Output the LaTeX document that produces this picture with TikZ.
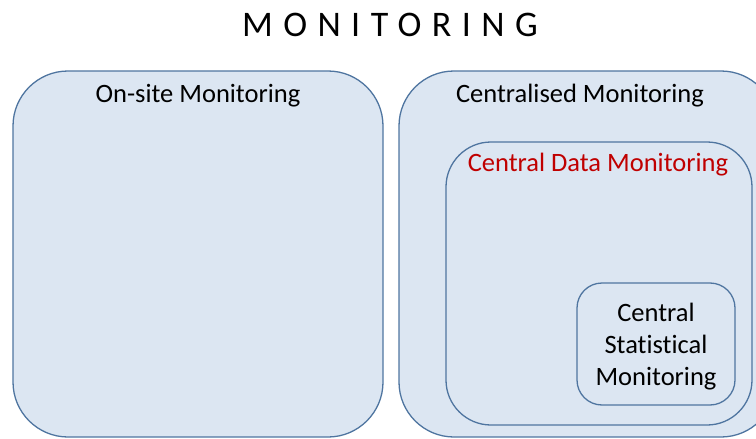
\documentclass[tikz,border=0pt]{standalone}
\usepackage{fontspec}
\setmainfont{Carlito}[Ligatures=NoCommon]
\newfontfamily\spacedfont[LetterSpace=29]{Carlito}
\usepackage{xcolor}
\definecolor{boxfill}{HTML}{DCE6F2}
\definecolor{boxline}{HTML}{4F75A0}
\definecolor{cdmred}{HTML}{C00000}
\tikzset{
  every picture/.style={line join=round, line cap=round},
  monbox/.style={draw=boxline, fill=boxfill, line width=1.3pt, inner sep=0pt},
  boxtitle/.style={font=\fontsize{26.5}{30}\selectfont, inner sep=0pt},
}

\begin{document}
\begin{tikzpicture}[x=1pt,y=-1pt]
\useasboundingbox (0,0) rectangle (756,439);
\clip (0,0) rectangle (756,439);
\node[font=\spacedfont\fontsize{36}{40}\selectfont, inner sep=0pt] (title) at (390,25) {MONITORING};
% the two main boxes
\node[monbox, rounded corners=55pt, minimum width=370pt, minimum height=366pt] (onsite) at (198,254) {};
\node[monbox, rounded corners=55pt, minimum width=377pt, minimum height=366pt] (central) at (587.5,254) {};
\node[boxtitle] (onsitelab) at (198,95.5) {On-site Monitoring};
\node[boxtitle] (centrallab) at (580,95.5) {Centralised Monitoring};
% nested boxes
\node[monbox, rounded corners=45pt, minimum width=306pt, minimum height=283pt] (cdm) at (599,283.5) {};
\node[boxtitle, text=cdmred] (cdmlab) at (598,164.5) {Central Data Monitoring};
\node[monbox, rounded corners=25pt, minimum width=158pt, minimum height=122pt,
  font=\fontsize{26.5}{32}\selectfont, align=center, text depth=0pt] (csm) at (656,344) {Central\\Statistical\\Monitoring};
\end{tikzpicture}
\end{document}
